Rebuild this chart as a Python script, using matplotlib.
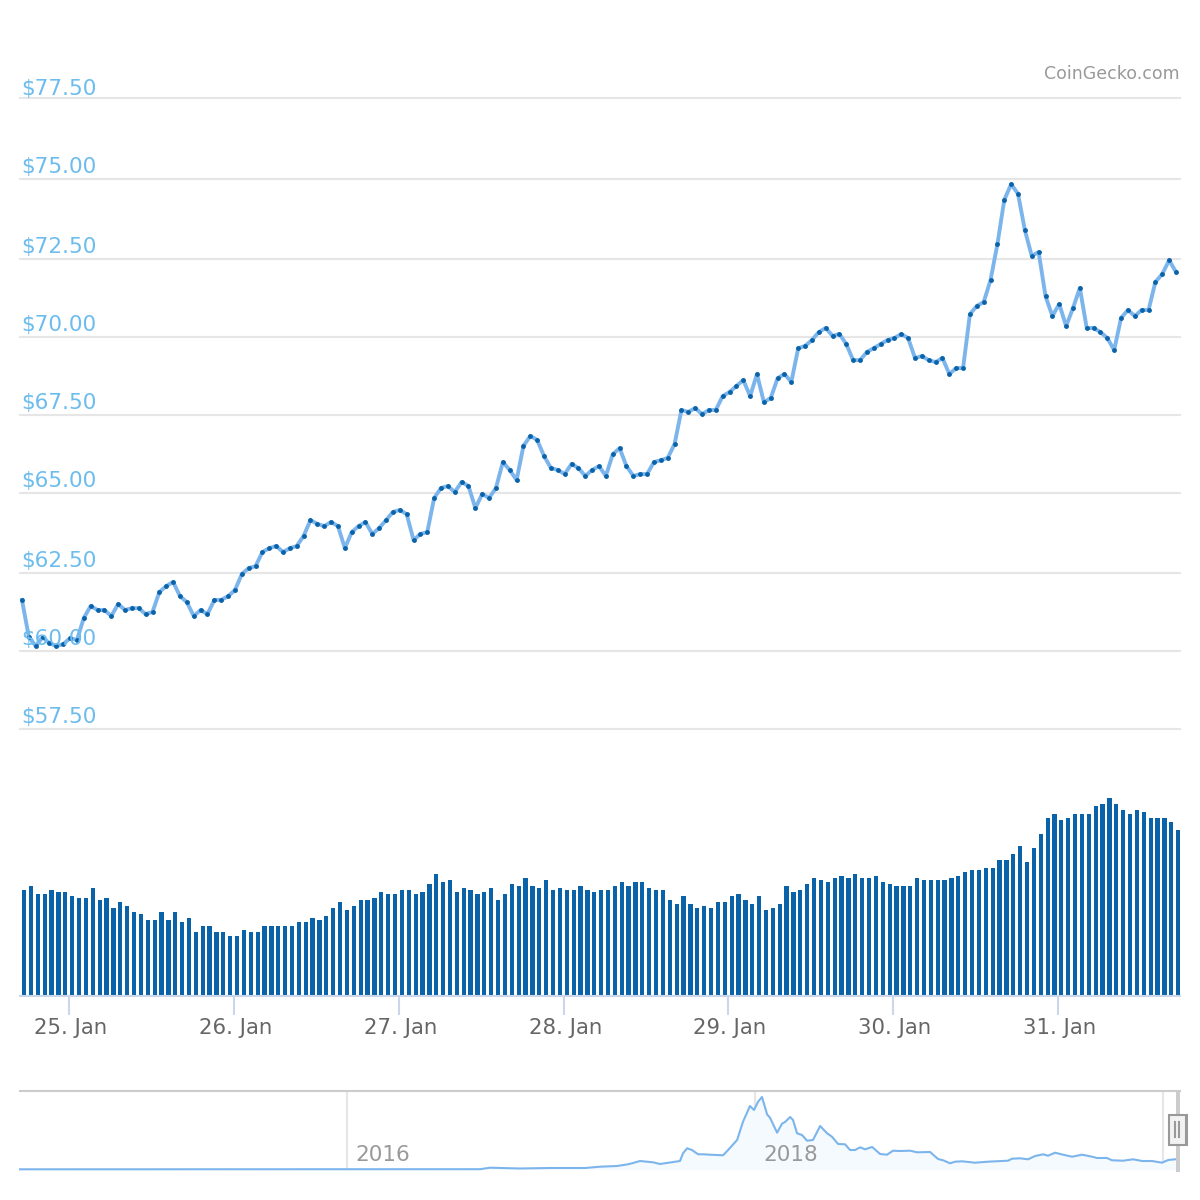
import matplotlib
matplotlib.use("Agg")
import matplotlib.pyplot as plt
from matplotlib.patches import Rectangle
from matplotlib.transforms import ScaledTranslation

# Hourly price, one value per point
prices = [
    61.62, 60.44, 60.16, 60.44, 60.25, 60.16, 60.22, 60.41, 60.35, 61.05,
    61.43, 61.30, 61.30, 61.11, 61.49, 61.30, 61.36, 61.36, 61.17, 61.24,
    61.87, 62.06, 62.19, 61.74, 61.55, 61.11, 61.30, 61.17, 61.62, 61.62,
    61.74, 61.93, 62.44, 62.63, 62.69, 63.14, 63.26, 63.33, 63.14, 63.26,
    63.33, 63.65, 64.15, 64.03, 63.96, 64.09, 63.96, 63.26, 63.77, 63.96,
    64.09, 63.71, 63.90, 64.15, 64.41, 64.47, 64.34, 63.52, 63.71, 63.77,
    64.85, 65.17, 65.23, 65.04, 65.36, 65.23, 64.53, 64.98, 64.85, 65.17,
    65.99, 65.74, 65.42, 66.50, 66.82, 66.69, 66.18, 65.80, 65.74, 65.61,
    65.93, 65.80, 65.55, 65.74, 65.86, 65.55, 66.24, 66.43, 65.86, 65.55,
    65.61, 65.61, 65.99, 66.05, 66.12, 66.56, 67.64, 67.58, 67.70, 67.51,
    67.64, 67.64, 68.08, 68.21, 68.40, 68.59, 68.08, 68.78, 67.89, 68.02,
    68.65, 68.78, 68.53, 69.60, 69.67, 69.86, 70.11, 70.24, 69.99, 70.05,
    69.73, 69.22, 69.22, 69.48, 69.60, 69.73, 69.86, 69.92, 70.05, 69.92,
    69.29, 69.35, 69.22, 69.16, 69.29, 68.78, 68.97, 68.97, 70.68, 70.94,
    71.06, 71.76, 72.90, 74.30, 74.80, 74.49, 73.34, 72.52, 72.65, 71.25,
    70.62, 71.00, 70.30, 70.87, 71.51, 70.24, 70.24, 70.11, 69.92, 69.54,
    70.56, 70.81, 70.62, 70.81, 70.81, 71.70, 71.95, 72.39, 72.01,
]

# Hourly volume, relative units
volumes = [
    106, 110, 102, 102, 106, 104, 104, 100, 98, 98, 108, 96, 98, 88, 94, 90,
    84, 82, 76, 76, 84, 76, 84, 74, 78, 64, 70, 70, 64, 64, 60, 60, 66, 64,
    64, 70, 70, 70, 70, 70, 74, 74, 78, 76, 80, 88, 94, 86, 90, 96, 96, 98,
    104, 102, 102, 106, 106, 102, 104, 112, 122, 114, 116, 104, 108, 106,
    102, 104, 108, 96, 102, 112, 110, 118, 110, 108, 116, 106, 108, 106,
    106, 110, 106, 104, 106, 106, 110, 114, 110, 114, 114, 108, 106, 106,
    96, 92, 100, 92, 88, 90, 88, 94, 94, 100, 102, 96, 92, 100, 86, 88, 92,
    110, 104, 106, 112, 118, 116, 114, 118, 120, 118, 122, 118, 118, 120,
    114, 112, 110, 110, 110, 118, 116, 116, 116, 116, 118, 120, 124, 126,
    126, 128, 128, 136, 136, 142, 150, 134, 148, 162, 178, 182, 176, 178,
    182, 182, 182, 190, 192, 198, 192, 186, 182, 186, 184, 178, 178, 178,
    174, 166,
]

# The gridlines are not evenly spaced in the picture, so each has its own level
price_ticks = [57.53, 60.00, 62.47, 65.01, 67.48, 69.95, 72.43, 74.96, 77.53]
price_labels = ["$57.50", "$60.00", "$62.50", "$65.00", "$67.50",
                "$70.00", "$72.50", "$75.00", "$77.50"]
day_labels = ["25. Jan", "26. Jan", "27. Jan", "28. Jan", "29. Jan", "30. Jan", "31. Jan"]
first_day_hour = 6.85

# Navigator: full history
nav_years = [
    2014.397, 2016.652, 2016.701, 2016.848, 2016.995, 2017.167, 2017.240,
    2017.324, 2017.377, 2017.402, 2017.436, 2017.500, 2017.534, 2017.632,
    2017.647, 2017.667, 2017.691, 2017.721, 2017.745, 2017.779, 2017.843,
    2017.868, 2017.912, 2017.941, 2017.975, 2017.995, 2018.015, 2018.034,
    2018.059, 2018.074, 2018.108, 2018.132, 2018.147, 2018.172, 2018.186,
    2018.206, 2018.230, 2018.255, 2018.284, 2018.319, 2018.353, 2018.377,
    2018.407, 2018.441, 2018.466, 2018.490, 2018.515, 2018.539, 2018.574,
    2018.613, 2018.647, 2018.676, 2018.711, 2018.760, 2018.794, 2018.858,
    2018.897, 2018.922, 2018.956, 2018.980, 2019.015, 2019.078, 2019.142,
    2019.240, 2019.260, 2019.299, 2019.338, 2019.373, 2019.412, 2019.436,
    2019.471, 2019.510, 2019.554, 2019.603, 2019.652, 2019.676, 2019.725,
    2019.750, 2019.804, 2019.853, 2019.897, 2019.946, 2019.995, 2020.025,
    2020.059,
]
nav_values = [
    0.2, 0.3, 1.8, 1.0, 1.5, 1.5, 2.8, 3.5, 5.2, 6.5, 8.5, 7.2, 5.5, 8.5,
    16.2, 21.2, 19.5, 15.2, 15.2, 14.8, 14.2, 19.5, 29.5, 47.8, 63.5, 59.5,
    67.8, 72.5, 55.2, 51.5, 36.8, 45.8, 47.5, 52.5, 49.5, 36.2, 34.5, 28.8,
    29.5, 43.5, 36.2, 32.8, 25.5, 25.2, 19.5, 19.5, 22.2, 20.2, 22.5, 15.5,
    14.8, 18.8, 18.5, 18.8, 17.2, 17.5, 10.5, 9.2, 6.2, 7.8, 8.2, 6.8, 7.8,
    8.8, 10.8, 11.2, 10.2, 13.5, 15.2, 13.8, 16.8, 14.8, 12.8, 14.8, 12.8,
    11.5, 11.5, 9.2, 8.8, 10.2, 8.5, 8.5, 6.8, 9.5, 10.2,
]
nav_grid_years = [2016, 2018, 2020]
nav_labels = ["2016", "2018"]

LABEL_BLUE = "#6cbcee"
LINE_BLUE = "#7cb5ec"
DARK_BLUE = "#0a63a8"
GRID = "#e6e6e6"
AXIS_BLUE = "#ccd6eb"


def pixel_axes(fig, left, top, right, bottom):
    # Axes placed by its pixel box on the 1200x1200 canvas
    ax = fig.add_axes([left / 1200, 1 - bottom / 1200,
                       (right - left) / 1200, (bottom - top) / 1200])
    for spine in ax.spines.values():
        spine.set_visible(False)
    return ax


def main() -> None:
    fig = plt.figure(figsize=(12, 12), dpi=100, facecolor="white")
    hours = list(range(len(prices)))
    xlim = (-0.29, 168.58)

    # Price panel
    ax = pixel_axes(fig, 20, 98, 1180, 729)
    ax.set_xlim(*xlim)
    ax.set_ylim(57.53, 77.53)
    ax.patch.set_alpha(0)
    ax.set_xticks([])
    ax.set_yticks(price_ticks)
    ax.tick_params(axis="y", length=0, labelleft=False)
    ax.grid(True, axis="y", color=GRID, linewidth=1.5)
    ax.set_axisbelow(True)
    for gridline in ax.get_ygridlines():
        gridline.set_clip_on(False)
    for tick, label in zip(price_ticks, price_labels):
        # top label sits closer to its line in the reference
        lift = 2.2 if label == "$77.50" else 4.3
        ax.annotate(label, xy=(0, tick), xycoords=ax.get_yaxis_transform(),
                    xytext=(0.8, lift), textcoords="offset points",
                    fontsize=15.5, color=LABEL_BLUE, va="baseline", ha="left")
    ax.plot(hours, prices, color=LINE_BLUE, linewidth=2.8, clip_on=False,
            solid_joinstyle="round", marker="o", markersize=3.5,
            markerfacecolor=DARK_BLUE, markeredgecolor=DARK_BLUE, markeredgewidth=0)
    fig.text(1180 / 1200, 1 - 79 / 1200, "CoinGecko.com", fontsize=12.5,
             color="#999999", ha="right", va="baseline")

    # Volume panel
    vol = pixel_axes(fig, 20, 790, 1180, 996)
    vol.set_xlim(*xlim)
    vol.set_ylim(0, 206)
    vol.bar(hours, volumes, width=0.62, align="edge", color=DARK_BLUE, linewidth=0)
    vol.set_yticks([])
    vol.set_xticks([first_day_hour + 24 * i for i in range(len(day_labels))])
    vol.set_xticklabels(day_labels, fontsize=15.3, color="#666666")
    vol.tick_params(axis="x", length=13.5, width=1.5, color=AXIS_BLUE, pad=2)
    shift = ScaledTranslation(1.5 / 100, 0, fig.dpi_scale_trans)
    for tick_label in vol.get_xticklabels():
        tick_label.set_transform(tick_label.get_transform() + shift)
    vol.spines["bottom"].set_visible(True)
    vol.spines["bottom"].set_color(AXIS_BLUE)
    vol.spines["bottom"].set_linewidth(1.5)

    # Navigator
    nav = pixel_axes(fig, 20, 1091, 1180, 1169.5)
    nav.set_xlim(2014.397, 2020.083)
    nav.set_ylim(0, 78.5)
    nav.set_yticks([])
    nav.set_xticks(nav_grid_years)
    nav.tick_params(axis="x", length=0, labelbottom=False)
    nav.grid(True, axis="x", color=GRID, linewidth=1.5)
    nav.set_axisbelow(True)
    nav.fill_between(nav_years, nav_values, 0, color="#f5faff", linewidth=0, zorder=1.5)
    nav.plot(nav_years, nav_values, color=LINE_BLUE, linewidth=1.5, clip_on=False, zorder=2)
    nav.spines["top"].set_visible(True)
    nav.spines["top"].set_color("#cccccc")
    nav.spines["top"].set_linewidth(1.5)
    for year, label in zip(nav_grid_years, nav_labels):
        nav.annotate(label, xy=(year, 0), xycoords=nav.get_xaxis_transform(),
                     xytext=(5.8, 5.9), textcoords="offset points",
                     fontsize=15.5, color="#999999", ha="left", va="baseline")

    # Selected range edge and scroll handle, in canvas pixels
    canvas = pixel_axes(fig, 0, 0, 1200, 1200)
    canvas.set_xlim(0, 1200)
    canvas.set_ylim(1200, 0)
    canvas.patch.set_alpha(0)
    canvas.set_xticks([])
    canvas.set_yticks([])
    canvas.add_patch(Rectangle((1176, 1091), 4, 81, facecolor="#cccccc", linewidth=0))
    canvas.add_patch(Rectangle((1169, 1115), 17, 30, facecolor="#f2f2f2",
                               edgecolor="#999999", linewidth=1.5))
    canvas.add_patch(Rectangle((1185, 1114), 3, 32, facecolor="#999999", linewidth=0))
    canvas.plot([1175, 1175], [1122, 1137], color="#999999", linewidth=1.5)
    canvas.plot([1179, 1179], [1122, 1137], color="#999999", linewidth=1.5)

    fig.savefig("out.png", dpi=100)


if __name__ == "__main__":
    main()
